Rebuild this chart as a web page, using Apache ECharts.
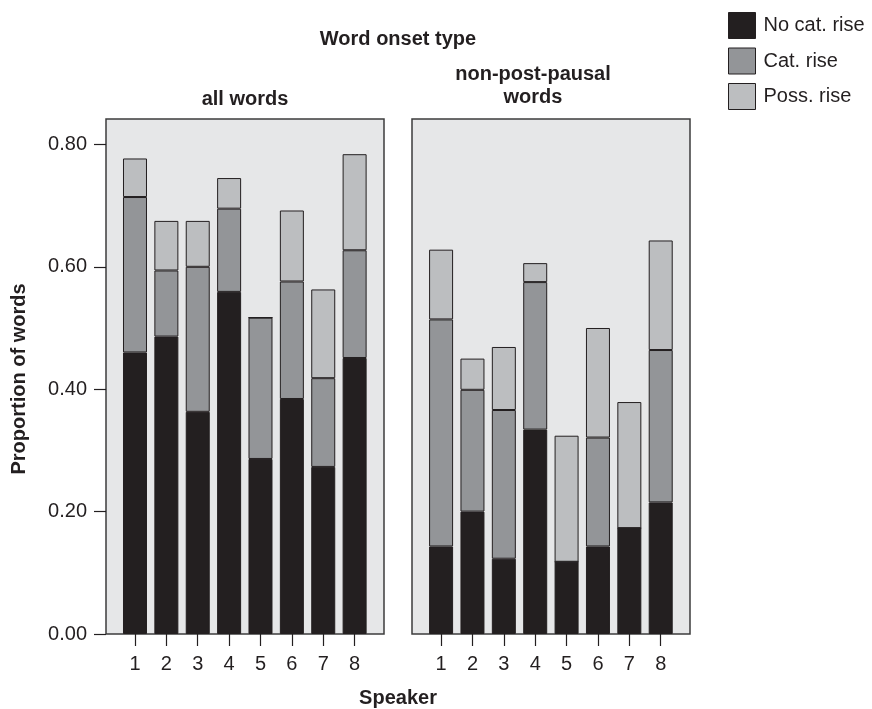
<!DOCTYPE html>
<html lang="en">
<head>
    <meta charset="UTF-8">
    <title>Word onset type</title>
    <script src="https://cdn.jsdelivr.net/npm/echarts@6/dist/echarts.min.js"></script>
    <style>
        html, body { margin: 0; padding: 0; background: #fff; }
        #chart { width: 872px; height: 709px; }
    </style>
</head>
<body>
<div id="chart"></div>
<script type="text/javascript">
    // speakers 1..8
    var speakers = ['1', '2', '3', '4', '5', '6', '7', '8'];
    var yTicks = [0, 0.2, 0.4, 0.6, 0.8];
    var seriesNames = ['No cat. rise', 'Cat. rise', 'Poss. rise'];

    // all words (segment heights)
    var allNoCat = [0.460, 0.486, 0.363, 0.559, 0.286, 0.384, 0.273, 0.451];
    var allCat   = [0.254, 0.108, 0.237, 0.136, 0.231, 0.192, 0.145, 0.176];
    var allPoss  = [0.063, 0.081, 0.075, 0.050, 0.000, 0.116, 0.145, 0.157];

    // non-post-pausal words (segment heights)
    var nppNoCat = [0.143, 0.200, 0.123, 0.334, 0.118, 0.143, 0.173, 0.215];
    var nppCat   = [0.371, 0.199, 0.243, 0.241, 0.000, 0.178, 0.000, 0.249];
    var nppPoss  = [0.114, 0.051, 0.103, 0.031, 0.206, 0.179, 0.206, 0.179];

    var colors = ['#231f20', '#939598', '#bcbec0'];
    var font = "'Liberation Sans', Arial, Helvetica, sans-serif";
    var yMax = 0.8415;

    function barSeries(name, idx, vals, color) {
        return {
            name: name,
            type: 'bar',
            xAxisIndex: idx,
            yAxisIndex: idx,
            stack: 'panel' + idx,
            barWidth: 24,
            itemStyle: { color: color, borderColor: '#231f20', borderWidth: 1 },
            data: vals
        };
    }

    // panel background grid: hidden x axis
    function bgXAxis(idx) {
        return { type: 'value', gridIndex: idx, min: 0, max: 1, show: false };
    }
    // bar grid: category axis with ticks under the bars
    function barXAxis(idx) {
        return {
            type: 'category', gridIndex: idx, data: speakers,
            axisLine: { show: false },
            axisTick: { show: true, alignWithLabel: true, length: 12,
                lineStyle: { color: '#231f20', width: 1.2 } },
            axisLabel: { margin: 20, fontSize: 20, color: '#231f20', fontFamily: font }
        };
    }
    function hiddenY(idx) {
        return { type: 'value', gridIndex: idx, min: 0, max: yMax, show: false };
    }

    var myChart = echarts.init(document.getElementById('chart'));
    var option = {
        animation: false,
        textStyle: { fontFamily: font },
        legend: {
            orient: 'vertical', left: 723, top: 7,
            itemWidth: 27, itemHeight: 26, itemGap: 8.5,
            icon: 'rect',
            data: seriesNames,
            textStyle: { fontSize: 20, color: '#231f20', padding: [0, 0, 0, 3] },
            itemStyle: { borderColor: '#231f20', borderWidth: 1 }
        },
        grid: [
            { left: 106, top: 119, width: 278, height: 515, show: true,
              backgroundColor: '#e6e7e8', borderColor: '#3c3c3c', borderWidth: 1.5 },
            { left: 119.3, top: 119, width: 251, height: 515 },
            { left: 412, top: 119, width: 278, height: 515, show: true,
              backgroundColor: '#e6e7e8', borderColor: '#3c3c3c', borderWidth: 1.5 },
            { left: 425.4, top: 119, width: 251, height: 515 }
        ],
        xAxis: [bgXAxis(0), barXAxis(1), bgXAxis(2), barXAxis(3)],
        yAxis: [
            { type: 'value', gridIndex: 0, min: 0, max: yMax,
              axisLine: { show: false }, splitLine: { show: false },
              axisTick: { show: true, length: 12, customValues: yTicks,
                  lineStyle: { color: '#231f20', width: 1.2 } },
              axisLabel: { customValues: yTicks, margin: 19, fontSize: 20, color: '#231f20',
                  formatter: function (v) { return v.toFixed(2); } } },
            hiddenY(1), hiddenY(2), hiddenY(3)
        ],
        graphic: [
            { type: 'text', x: 398, y: 39, style: { text: 'Word onset type', fontSize: 20, fontWeight: 'bold',
                fontFamily: font, fill: '#231f20', align: 'center', verticalAlign: 'middle' } },
            { type: 'text', x: 245, y: 99, style: { text: 'all words', fontSize: 20, fontWeight: 'bold',
                fontFamily: font, fill: '#231f20', align: 'center', verticalAlign: 'middle' } },
            { type: 'text', x: 533, y: 74, style: { text: 'non-post-pausal', fontSize: 20, fontWeight: 'bold',
                fontFamily: font, fill: '#231f20', align: 'center', verticalAlign: 'middle' } },
            { type: 'text', x: 533, y: 97, style: { text: 'words', fontSize: 20, fontWeight: 'bold',
                fontFamily: font, fill: '#231f20', align: 'center', verticalAlign: 'middle' } },
            { type: 'text', x: 398, y: 698, style: { text: 'Speaker', fontSize: 20, fontWeight: 'bold',
                fontFamily: font, fill: '#231f20', align: 'center', verticalAlign: 'middle' } },
            { type: 'text', x: 19, y: 379, rotation: Math.PI / 2,
              style: { text: 'Proportion of words', fontSize: 20, fontWeight: 'bold',
                fontFamily: font, fill: '#231f20', align: 'center', verticalAlign: 'middle' } }
        ],
        series: [
            barSeries(seriesNames[0], 1, allNoCat, colors[0]),
            barSeries(seriesNames[1], 1, allCat, colors[1]),
            barSeries(seriesNames[2], 1, allPoss, colors[2]),
            barSeries(seriesNames[0], 3, nppNoCat, colors[0]),
            barSeries(seriesNames[1], 3, nppCat, colors[1]),
            barSeries(seriesNames[2], 3, nppPoss, colors[2])
        ]
    };
    myChart.setOption(option);
</script>
</body>
</html>
